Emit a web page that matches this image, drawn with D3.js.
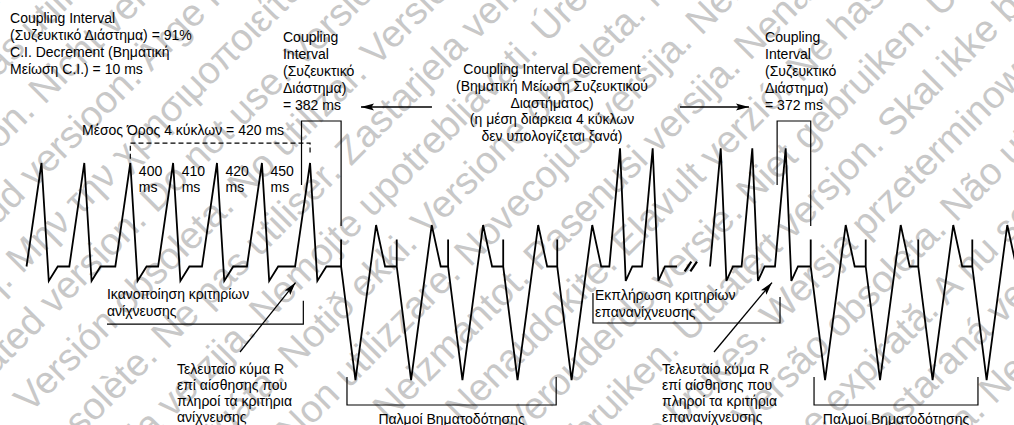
<!DOCTYPE html>
<html>
<head>
<meta charset="utf-8" />
<title>Coupling Interval Decrement</title>
<style>
  body { margin: 0; background: #fff; }
  svg { display: block; font-family: "Liberation Sans", Arial, sans-serif; }
  .wave { fill: none; stroke: #000; stroke-width: 1.8px; stroke-linejoin: miter; }
  .guide { fill: none; stroke: #000; stroke-width: 1.2px; }
  .dashed { fill: none; stroke: #000; stroke-width: 1.2px; stroke-dasharray: 5,3; }
  .brk { stroke: #000; stroke-width: 2.2px; }
  .lbl { font-size: 14px; fill: #000; }
  .wm { font-size: 38px; fill: #c8c8c8; }
</style>
</head>
<body>
<svg id="chart" width="1014" height="425"></svg>
<script src="https://d3js.org/d3.v7.min.js"></script>
<script>
// ---- data: time in ms, amplitude relative to a normal sensed R wave (= 1) ----
var sensedR1 = [0, 400, 830, 1230, 1640, 2060, 2510];   // sensed tachycardia R peaks
var pacedS1  = [2800, 3320, 3800, 4315, 4820];            // first burst, pacing spikes
var tallR1   = [5407, 5712];                              // beats after first burst
var segAEnd  = 5939;                                      // trace stops before the break
var tallR2   = [6348, 6643, 6955];                        // redetection beats
var pacedS2  = [7189, 7703, 8194, 8699];                  // second burst
var breakMarks = [6042, 6095];

// beat shapes as [ms offset, amplitude]
var sensedShape = [[-140, 0], [0, 1], [68, -0.14], [152, 0]];
var tallShape   = [[-100, 0], [0, 1.142], [53, -0.14], [115, 0]];
var pacedShape  = [[0, 0], [0, 0.261], [0, 0], [134, -1.097], [327, 0.401], [411, 0]];

var cycleLabels = ["400", "410", "420", "450"];         // ms, the 4 cycles that are averaged

var textTopLeft = ["Coupling Interval", "(Συζευκτικό Διάστημα) = 91%", "C.I. Decrement (Βηματική", "Μείωση C.I.) = 10 ms"];
var textCI1 = ["Coupling", "Interval", "(Συζευκτικό", "Διάστημα)", "= 382 ms"];
var textCI2 = ["Coupling", "Interval", "(Συζευκτικό", "Διάστημα)", "= 372 ms"];
var textCenter = ["Coupling Interval Decrement", "(Βηματική Μείωση Συζευκτικού", "Διαστήματος)", "(η μέση διάρκεια 4 κύκλων", "δεν υπολογίζεται ξανά)"];
var textAvg = "Μέσος Όρος 4 κύκλων = 420 ms";
var textDetect = ["Ικανοποίηση κριτηρίων", "ανίχνευσης"];
var textRedetect = ["Εκπλήρωση κριτηρίων", "επανανίχνευσης"];
var textLast1 = ["Τελευταίο κύμα R", "επί αίσθησης που", "πληροί τα κριτήρια", "ανίχνευσης"];
var textLast2 = ["Τελευταίο κύμα R", "επί αίσθησης που", "πληροί τα κριτήρια", "επανανίχνευσης"];
var textPacing = "Παλμοί Βηματοδότησης";

var wmPhrases = ["Veraltete Version. Nicht verwenden.", "Aegunud versioon. Ärge kasutage.", "Παλιά έκδοση. Μην την χρησιμοποιείτε.",
  "Outdated version. Do not use.", "Versión obsoleta. No utilizar.", "Version obsolète. Ne pas utiliser.",
  "Zastarjela verzija. Nemojte upotrebljavati.", "Úrelt útgáfa. Notið ekki.", "Versione obsoleta. Non utilizzare.",
  "Novecojusi versija. Neizmantot.", "Pasenusi versija. Nenaudokite.", "Elavult verzió. Ne használja!",
  "Verouderde versie. Niet gebruiken.", "Utdatert versjon. Skal ikke brukes.", "Wersja przeterminowana. Nie używać.",
  "Versão obsoleta. Não utilize.", "Versiune expirată. A nu se utiliza.", "Zastaraná verzia. Nepoužívať.",
  "Zastarela različica. Ne uporabite.", "Vanhentunut versio. Älä käytä.", "Föråldrad version. Använd ej.",
  "Güncel olmayan sürüm. Kullanmayın.", "Zastaralá verze. Nepoužívat.", "Forældet version. Må ikke anvendes.",
  "Version périmée. Ne pas utiliser."];

// ---- setup ----
var svg = d3.select("#chart"),
    width = +svg.attr("width"),
    height = +svg.attr("height");

var x = d3.scaleLinear().domain([0, 1000]).range([41.5, 148.5]),
    y = d3.scaleLinear().domain([0, 1]).range([266.5, 163]);

svg.append("defs").append("marker")
  .attr("id", "head")
  .attr("markerUnits", "userSpaceOnUse")
  .attr("viewBox", "0 -4 14 8")
  .attr("refX", 13).attr("refY", 0)
  .attr("markerWidth", 14).attr("markerHeight", 8)
  .attr("orient", "auto")
  .append("path").attr("d", "M0,-3.6L13,0L0,3.6L2.5,0Z").attr("fill", "#000");

// ---- watermark ----
var wm = svg.append("g").attr("transform", "rotate(-45," + width / 2 + "," + height / 2 + ")");
d3.range(-10, 11).forEach(function(k) {
  var i0 = ((k + 8) % wmPhrases.length + wmPhrases.length) % wmPhrases.length;
  var row = d3.range(4).map(function(j) { return wmPhrases[(i0 + j) % wmPhrases.length]; });
  wm.append("text").attr("class", "wm")
    .attr("x", width / 2 - 640 + ((k + 30) % 3) * 80)
    .attr("y", height / 2 + k * 52 + 13)
    .text(row.join("  "));
});

// ---- trace ----
function beats(times, shape) {
  var pts = [];
  times.forEach(function(t) {
    shape.forEach(function(p) { pts.push({t: t + p[0], a: p[1]}); });
  });
  return pts;
}

var segA = [].concat(beats(sensedR1, sensedShape), beats(pacedS1, pacedShape), beats(tallR1, tallShape), [{t: segAEnd, a: 0}]);
var segB = [].concat(beats(tallR2, tallShape), beats(pacedS2, pacedShape));

var line = d3.line()
  .x(function(d) { return x(d.t); })
  .y(function(d) { return y(d.a); });

svg.append("g").selectAll("path").data([segA, segB]).enter()
  .append("path").attr("class", "wave").attr("d", line);

svg.append("g").selectAll("line").data(breakMarks).enter()
  .append("line").attr("class", "brk")
  .attr("x1", function(d) { return x(d - 31); }).attr("y1", y(-0.048))
  .attr("x2", function(d) { return x(d + 31); }).attr("y2", y(0.048));

// ---- coupling interval boxes (last sensed R -> first pacing spike) ----
var ciBoxes = [
  {from: sensedR1[sensedR1.length - 1] - 80, to: pacedS1[0]},
  {from: tallR2[tallR2.length - 1] - 80, to: pacedS2[0]}
];
svg.append("g").selectAll("path").data(ciBoxes).enter()
  .append("path").attr("class", "guide")
  .attr("d", function(d) {
    return d3.line()([[x(d.from), y(0.787)], [x(d.from), y(1.406)], [x(d.to), y(1.406)], [x(d.to), y(0.391)]]);
  });

// ---- 4-cycle average window ----
var avgFrom = sensedR1[2], avgTo = sensedR1[6];
svg.append("path").attr("class", "dashed")
  .attr("d", d3.line()([[x(avgFrom), y(1.04)], [x(avgFrom), y(1.193)], [x(avgTo), y(1.193)], [x(avgTo), y(1.09)]]));

svg.append("g").selectAll("text").data(cycleLabels).enter()
  .append("text").attr("class", "lbl")
  .attr("x", function(d, i) { return x(sensedR1[i + 2] + 80); })
  .attr("y", y(0.879))
  .each(function(d) {
    d3.select(this).append("tspan").text(d);
    d3.select(this).append("tspan").attr("x", d3.select(this).attr("x")).attr("dy", 16.5).text("ms");
  });

// ---- pacing brackets ----
var pacingBrackets = [{from: 2855, to: 4810}, {from: 7220, to: 8752}];
svg.append("g").selectAll("path").data(pacingBrackets).enter()
  .append("path").attr("class", "guide")
  .attr("d", function(d) {
    return d3.line()([[x(d.from), y(-1.067)], [x(d.from), y(-1.338)], [x(d.to), y(-1.338)], [x(d.to), y(-1.067)]]);
  });
svg.append("g").selectAll("text").data(pacingBrackets).enter()
  .append("text").attr("class", "lbl").attr("text-anchor", "middle")
  .attr("x", function(d) { return x((d.from + d.to) / 2); })
  .attr("y", y(-1.517))
  .text(textPacing);

// ---- detection / redetection brackets ----
svg.append("path").attr("class", "guide")
  .attr("d", d3.line()([[x(612), y(-0.556)], [x(2447), y(-0.556)], [x(2447), y(-0.33)]]));
svg.append("path").attr("class", "guide")
  .attr("d", d3.line()([[x(5154), y(-0.256)], [x(5154), y(-0.546)], [x(6902), y(-0.546)], [x(6902), y(-0.295)]]));

// ---- arrows ----
var arrows = [
  {t0: 3649, a0: 1.541, t1: 2986, a1: 1.541},
  {t0: 5967, a0: 1.541, t1: 6612, a1: 1.541},
  {t0: 1855, a0: -0.826, t1: 2374, a1: -0.155},
  {t0: 6285, a0: -0.826, t1: 6827, a1: -0.155}
];
svg.append("g").selectAll("line").data(arrows).enter()
  .append("line").attr("stroke", "#000").attr("stroke-width", 1.3)
  .attr("x1", function(d) { return x(d.t0); }).attr("y1", function(d) { return y(d.a0); })
  .attr("x2", function(d) { return x(d.t1); }).attr("y2", function(d) { return y(d.a1); })
  .attr("marker-end", "url(#head)");

// ---- text blocks ----
function block(lines, t, a, gap, anchor) {
  var tx = svg.append("text").attr("class", "lbl")
    .attr("x", x(t)).attr("y", y(a))
    .attr("text-anchor", anchor || "start");
  lines.forEach(function(s, i) {
    tx.append("tspan").attr("x", x(t)).attr("dy", i ? gap : 0).text(s);
  });
}

block(textTopLeft, -294, 2.353, 17);
block(textCI1, 2257, 2.169, 17);
block(textCI2, 6762, 2.169, 17);
block(textCenter, 4771, 1.86, 16.8, "middle");
block([textAvg], 378.5, 1.271, 17);
block(textDetect, 612, -0.314, 17);
block(textRedetect, 5173, -0.324, 17);
block(textLast1, 1266, -1.039, 16);
block(textLast2, 5799, -1.039, 16);
</script>
</body>
</html>
